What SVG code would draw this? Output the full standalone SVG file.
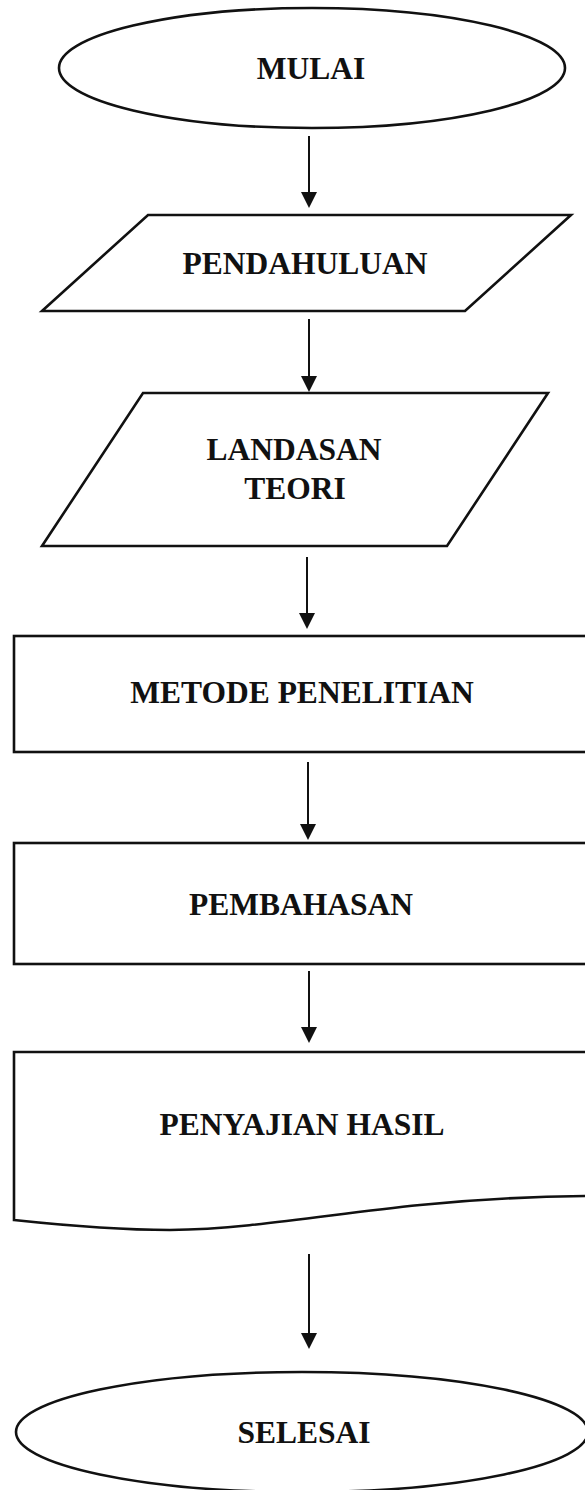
<svg xmlns="http://www.w3.org/2000/svg" width="585" height="1490" viewBox="0 0 585 1490">
<defs>
<style>
.shape{fill:#fff;stroke:#111;stroke-width:2.6}
.lbl{font-family:"Liberation Serif","Times New Roman",serif;font-weight:bold;font-size:31.5px;fill:#111;text-anchor:middle}
.conn{stroke:#111;stroke-width:2;fill:none}
</style>
<marker id="ah" markerUnits="userSpaceOnUse" markerWidth="16" markerHeight="16" viewBox="0 0 16 16" refX="8" refY="0">
<path d="M0,0 L16,0 L8,16 Z" fill="#111"/>
</marker>
</defs>
<rect width="585" height="1490" fill="#fff"/>
<g id="mulai">
<ellipse class="shape" cx="312" cy="68" rx="253" ry="60"/>
<text class="lbl" x="311" y="79">MULAI</text>
</g>
<g id="pendahuluan">
<polygon class="shape" points="148,215 571,215 465,311 42,311"/>
<text class="lbl" x="305" y="274">PENDAHULUAN</text>
</g>
<g id="landasan">
<polygon class="shape" points="143,393 548,393 447,546 42,546"/>
<text class="lbl" x="294" y="460">LANDASAN</text>
<text class="lbl" x="295" y="499">TEORI</text>
</g>
<g id="metode">
<rect class="shape" x="14" y="636" width="600" height="116"/>
<text class="lbl" x="302" y="703">METODE PENELITIAN</text>
</g>
<g id="pembahasan">
<rect class="shape" x="14" y="843" width="600" height="121"/>
<text class="lbl" x="301" y="915">PEMBAHASAN</text>
</g>
<g id="penyajian">
<path class="shape" d="M600,1052 L14,1052 L14,1220 C70,1226 120,1230 170,1230 C250,1229 330,1214 420,1205 C480,1199 540,1196 600,1196 Z"/>
<text class="lbl" x="302" y="1135">PENYAJIAN HASIL</text>
</g>
<g id="selesai">
<ellipse class="shape" cx="302" cy="1432" rx="286" ry="60"/>
<text class="lbl" x="304" y="1443">SELESAI</text>
</g>
<g id="connectors">
<line class="conn" x1="309" y1="136" x2="309" y2="192" marker-end="url(#ah)"/>
<line class="conn" x1="309" y1="319" x2="309" y2="376" marker-end="url(#ah)"/>
<line class="conn" x1="307" y1="557" x2="307" y2="613" marker-end="url(#ah)"/>
<line class="conn" x1="308" y1="762" x2="308" y2="824" marker-end="url(#ah)"/>
<line class="conn" x1="309" y1="971" x2="309" y2="1027" marker-end="url(#ah)"/>
<line class="conn" x1="309" y1="1254" x2="309" y2="1333" marker-end="url(#ah)"/>
</g>
</svg>
